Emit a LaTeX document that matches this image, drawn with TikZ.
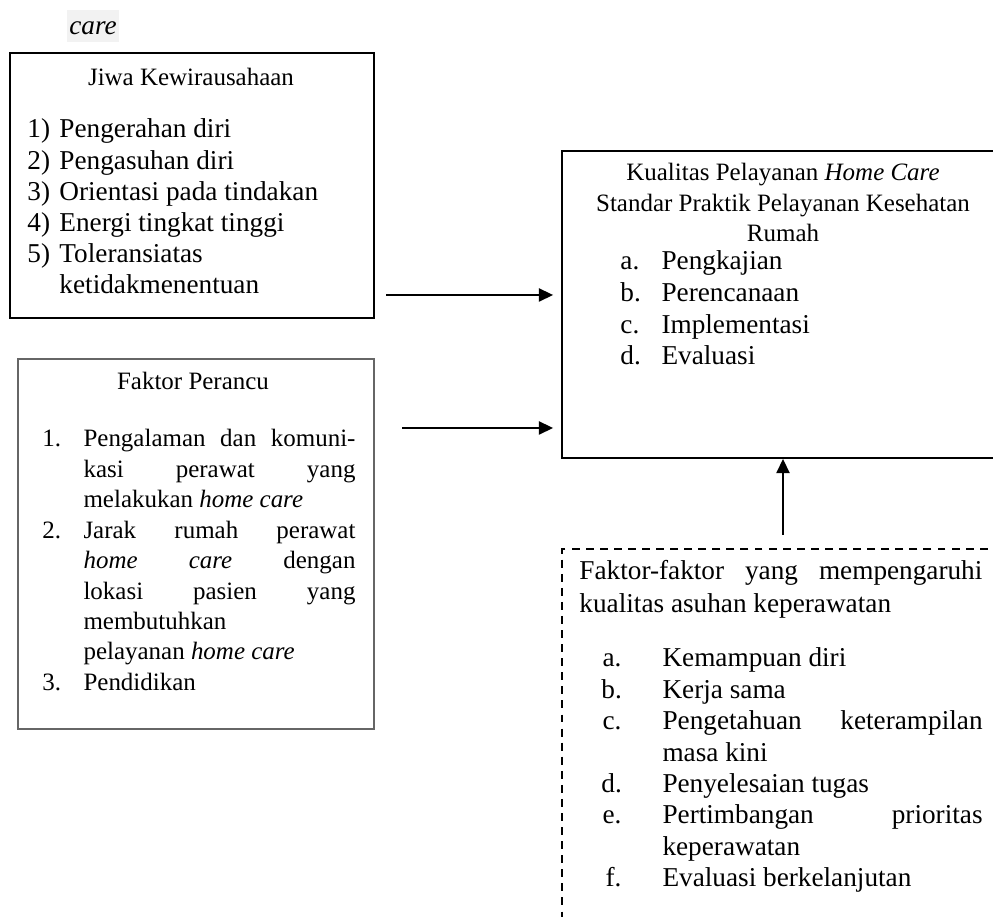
\documentclass[tikz,border=0pt]{standalone}
\usepackage{fontspec}
\setmainfont{Liberation Serif}
\usepackage{array}
\usepackage{tikz}
\usetikzlibrary{shapes,arrows.meta}

\begin{document}
\begin{tikzpicture}[x=0.4405pt,y=-0.4405pt,
	box/.style={rectangle,draw,line width=0.9pt,anchor=north west,inner sep=0pt},
	arr/.style={line width=0.6pt,-{Triangle[length=6.2pt,width=5.8pt]}},
	big/.style={font=\fontsize{12}{13.7}\selectfont},
	small/.style={font=\fontsize{11}{13.4}\selectfont},
	list/.style={anchor=base west,inner sep=0pt}]

		\useasboundingbox (0,0) rectangle (993,917);

		\node[big,fill=black!5,anchor=base,text height=11pt,text depth=3pt,inner xsep=1pt,inner ysep=0pt] (care) at (93,35) {\textit{care}};

		\node[box,minimum width=160.3pt,minimum height=116.7pt] (jiwa) at (9,52) {};
		\node[small,anchor=base] (jiwat) at (191,86) {Jiwa Kewirausahaan};
		\node[big,list] (jiwal) at (27,138)
			{\begin{tabular}[t]{@{}p{14.1pt}@{}l@{}}
			1) & Pengerahan diri\\
			2) & Pengasuhan diri\\
			3) & Orientasi pada tindakan\\
			4) & Energi tingkat tinggi\\
			5) & Toleransiatas\\
			   & ketidakmenentuan
			\end{tabular}};

		\node[box,draw=black!60,line width=0.7pt,minimum width=156.8pt,minimum height=163pt] (perancu) at (17,358) {};
		\node[small,anchor=base] (perancut) at (193,390) {Faktor Perancu};
		\node[small,list] (perancul) at (42,447)
			{\begin{tabular}[t]{@{}p{18.1pt}@{}l@{}}
			1. & \makebox[119.8pt][s]{Pengalaman dan komuni-}\\
			   & \makebox[119.8pt][s]{kasi perawat yang}\\
			   & melakukan \textit{home care}\\
			2. & \makebox[119.8pt][s]{Jarak rumah perawat}\\
			   & \makebox[119.8pt][s]{\textit{home care} dengan}\\
			   & \makebox[119.8pt][s]{lokasi pasien yang}\\
			   & membutuhkan\\
			   & pelayanan \textit{home care}\\
			3. & Pendidikan
			\end{tabular}};

		\node[box,minimum width=195.6pt,minimum height=135.2pt] (kual) at (561,150) {};
		\node[small,anchor=base,inner sep=0pt] (kualt) at (783,181)
			{\begin{tabular}[t]{@{}c@{}}
			Kualitas Pelayanan \textit{Home Care}\\
			Standar Praktik Pelayanan Kesehatan\\
			Rumah
			\end{tabular}};
		\node[font=\fontsize{12}{13.95}\selectfont,list] (kuall) at (620,270)
			{\begin{tabular}[t]{@{}p{18.1pt}@{}l@{}}
			a. & Pengkajian\\
			b. & Perencanaan\\
			c. & Implementasi\\
			d. & Evaluasi
			\end{tabular}};

		\node[box,dash pattern=on 3.5pt off 2.7pt,minimum width=195.6pt,minimum height=168.3pt] (faktor) at (561,548) {};
		\node[font=\fontsize{12}{14.1}\selectfont,list] (faktort) at (579,580)
			{\begin{tabular}[t]{@{}l@{}}
			\makebox[177.5pt][s]{Faktor-faktor yang mempengaruhi}\\
			kualitas asuhan keperawatan
			\end{tabular}};
		\node[font=\fontsize{12}{13.83}\selectfont,list] (faktorl) at (601,667)
			{\begin{tabular}[t]{@{}>{\raggedleft\arraybackslash}p{8.8pt}@{\hspace{18.1pt}}l@{}}
			a. & Kemampuan diri\\
			b. & Kerja sama\\
			c. & \makebox[141pt][s]{Pengetahuan keterampilan}\\
			   & masa kini\\
			d. & Penyelesaian tugas\\
			e. & \makebox[141pt][s]{Pertimbangan prioritas}\\
			   & keperawatan\\
			f. & Evaluasi berkelanjutan
			\end{tabular}};

		\coordinate (s1) at (386,295);
		\coordinate (s2) at (402,428);
		\coordinate (s3) at (783,535);

		\path[arr,shorten >=3.5pt] (s1) edge (s1 -| kual.west);
		\path[arr,shorten >=3.5pt] (s2) edge (s2 -| kual.west);
		\path[arr] (s3) edge (s3 |- kual.south);

	\end{tikzpicture}
\end{document}
